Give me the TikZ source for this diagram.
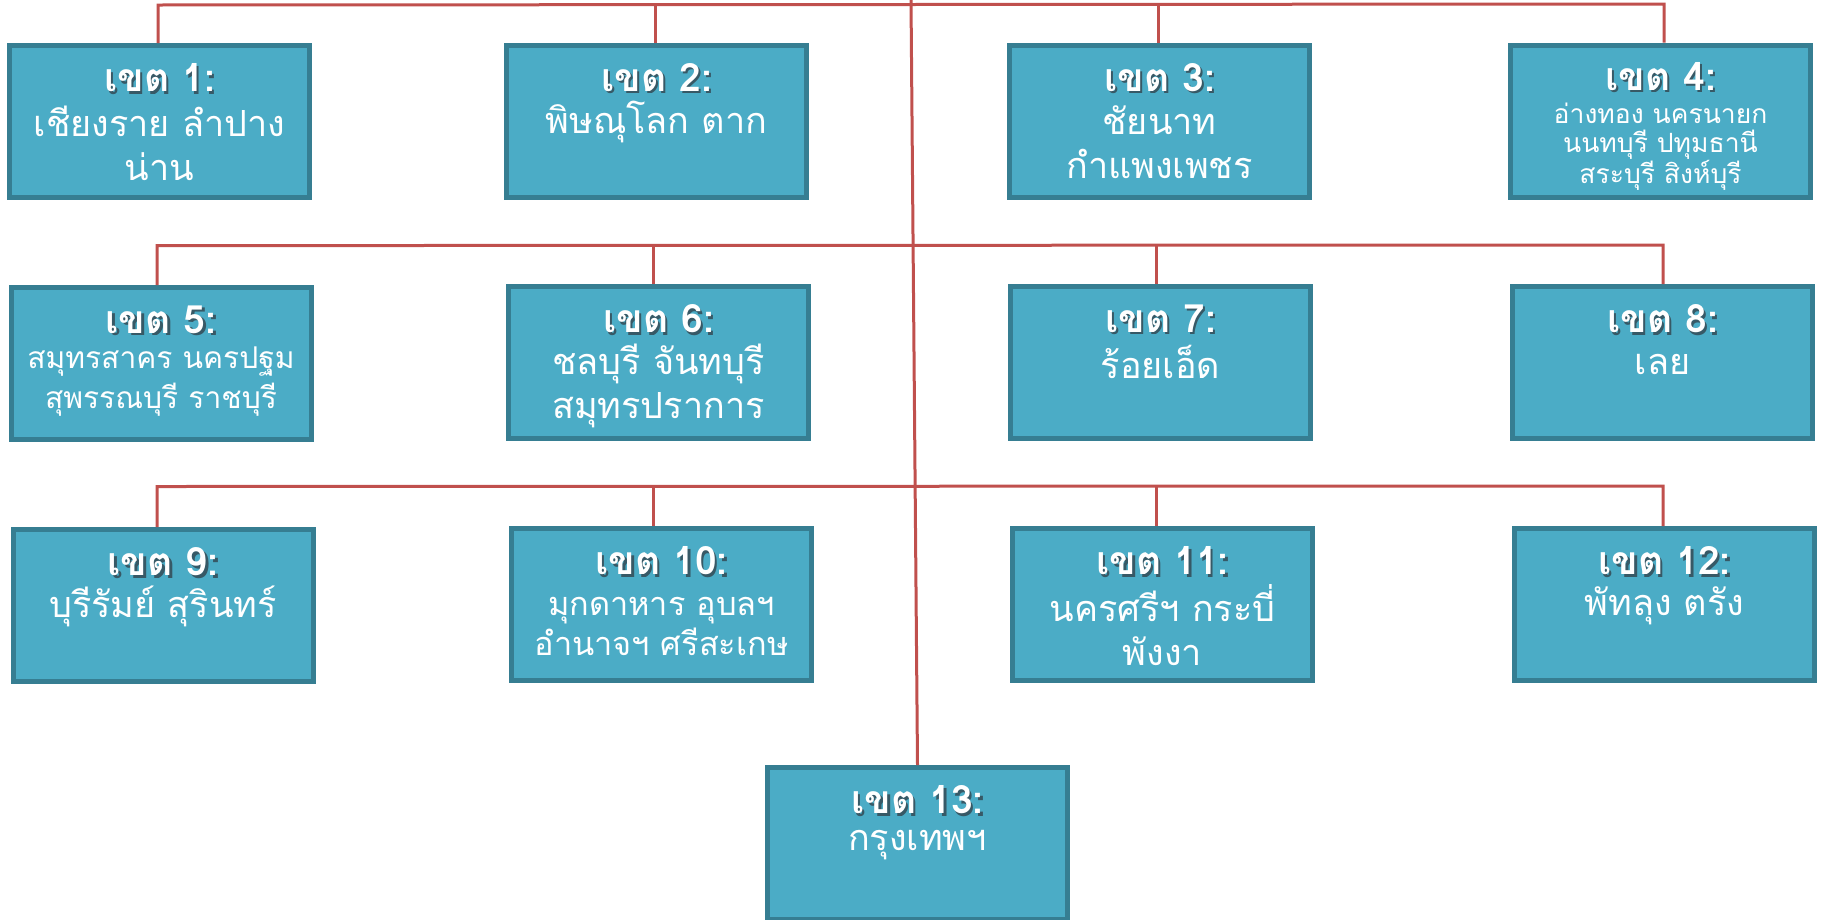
\documentclass[tikz,border=0pt]{standalone}
\usepackage{fontspec}
\newfontfamily\thai[Script=Thai]{Loma}
\definecolor{boxfill}{RGB}{75,172,198}
\definecolor{boxedge}{RGB}{54,126,146}
\definecolor{linkred}{RGB}{192,80,77}
\definecolor{shadowc}{RGB}{20,60,75}
\newcommand\shd[1]{\leavevmode\rlap{\raisebox{-2.5pt}{\hspace{2.5pt}\color{shadowc!85}#1}}#1}
\tikzset{
  regbox/.style={draw=boxedge,fill=boxfill,line width=5pt,minimum width=300pt,minimum height=152pt,inner sep=0pt},
  ttl/.style={text=white,font=\thai\bfseries\fontsize{39}{44}\selectfont,inner sep=0pt},
  body/.style={text=white,align=center,inner sep=0pt,font=\thai\fontsize{36}{44}\selectfont},
  bodys/.style={text=white,align=center,inner sep=0pt,font=\thai\fontsize{30}{39.5}\selectfont},
  bodym/.style={text=white,align=center,inner sep=0pt,font=\thai\fontsize{32.5}{40}\selectfont},
  bodyxs/.style={text=white,align=center,inner sep=0pt,font=\thai\fontsize{26.5}{29}\selectfont},
  conn/.style={draw=linkred,line width=3pt}
}
\begin{document}
\begin{tikzpicture}[x=1pt,y=-1pt]
\useasboundingbox (0,0) rectangle (1825,919);
% boxes
\node[regbox] (b1) at (159.5,121.6) {};
\node[regbox] (b2) at (656.5,121) {};
\node[regbox] (b3) at (1159.5,121) {};
\node[regbox] (b4) at (1660.5,121) {};
\node[regbox] (b5) at (161,363.5) {};
\node[regbox] (b6) at (658.5,362.5) {};
\node[regbox] (b7) at (1160.5,362.5) {};
\node[regbox] (b8) at (1662.5,362.5) {};
\node[regbox] (b9) at (163,605.5) {};
\node[regbox] (b10) at (661.5,604.5) {};
\node[regbox] (b11) at (1162.5,604.5) {};
\node[regbox] (b12) at (1664.5,604.5) {};
\node[regbox] (b13) at (917.5,843.5) {};
% bus coordinates
\coordinate (top) at (911,0);
\coordinate (r1a) at (158,5);
\coordinate (r1b) at (655,5);
\coordinate (r1c) at (1158,4.5);
\coordinate (r1d) at (1664,4);
\coordinate (r2a) at (157,245.6);
\coordinate (r2b) at (653,245.6);
\coordinate (r2c) at (1156,245.3);
\coordinate (r2d) at (1663,245);
\coordinate (r3a) at (157,486.5);
\coordinate (r3b) at (653,486.5);
\coordinate (r3c) at (1156,486.2);
\coordinate (r3d) at (1663,486);
% connectors
\draw[conn] (r1a |- b1.north) -- (r1a) -- (r1d) -- (r1d |- b4.north);
\draw[conn] (r1b) -- (r1b |- b2.north);
\draw[conn] (r1c) -- (r1c |- b3.north);
\draw[conn] (r2a |- b5.north) -- (r2a) -- (r2d) -- (r2d |- b8.north);
\draw[conn] (r2b) -- (r2b |- b6.north);
\draw[conn] (r2c) -- (r2c |- b7.north);
\draw[conn] (r3a |- b9.north) -- (r3a) -- (r3d) -- (r3d |- b12.north);
\draw[conn] (r3b) -- (r3b |- b10.north);
\draw[conn] (r3c) -- (r3c |- b11.north);
\draw[conn] (top) -- (b13.north);
% titles
\node[ttl] (t1) at ([yshift=-36pt]b1.north) {\shd{เขต 1:}};
\node[ttl] (t2) at ([yshift=-36pt]b2.north) {\shd{เขต 2:}};
\node[ttl] (t3) at ([yshift=-36pt]b3.north) {\shd{เขต 3:}};
\node[ttl] (t4) at ([yshift=-35pt]b4.north) {\shd{เขต 4:}};
\node[ttl] (t5) at ([yshift=-36pt]b5.north) {\shd{เขต 5:}};
\node[ttl] (t6) at ([yshift=-36pt]b6.north) {\shd{เขต 6:}};
\node[ttl] (t7) at ([yshift=-36pt]b7.north) {\shd{เขต 7:}};
\node[ttl] (t8) at ([yshift=-36pt]b8.north) {\shd{เขต 8:}};
\node[ttl] (t9) at ([yshift=-36pt]b9.north) {\shd{เขต 9:}};
\node[ttl] (t10) at ([yshift=-36pt]b10.north) {\shd{เขต 10:}};
\node[ttl] (t11) at ([yshift=-36pt]b11.north) {\shd{เขต 11:}};
\node[ttl] (t12) at ([yshift=-36pt]b12.north) {\shd{เขต 12:}};
\node[ttl] (t13) at ([yshift=-36pt]b13.north) {\shd{เขต 13:}};
% bodies
\node[body] (d1) at ([yshift=-100pt]b1.north) {เชียงราย ลำปาง\\น่าน};
\node[body] (d2) at ([yshift=-79pt]b2.north) {พิษณุโลก ตาก};
\node[body] (d3) at ([yshift=-100pt]b3.north) {ชัยนาท\\กำแพงเพชร};
\node[bodyxs] (d4) at ([yshift=-104pt]b4.north) {อ่างทอง นครนายก\\นนทบุรี ปทุมธานี\\สระบุรี สิงห์บุรี};
\node[bodys] (d5) at ([yshift=-96.5pt]b5.north) {สมุทรสาคร นครปฐม\\สุพรรณบุรี ราชบุรี};
\node[body] (d6) at ([yshift=-102pt]b6.north) {ชลบุรี จันทบุรี\\สมุทรปราการ};
\node[body] (d7) at ([yshift=-78pt]b7.north) {ร้อยเอ็ด};
\node[body] (d8) at ([yshift=-80pt]b8.north) {เลย};
\node[body] (d9) at ([yshift=-79pt]b9.north) {บุรีรัมย์ สุรินทร์};
\node[bodym] (d10) at ([yshift=-100pt]b10.north) {มุกดาหาร อุบลฯ\\อำนาจฯ ศรีสะเกษ};
\node[body] (d11) at ([yshift=-99pt]b11.north) {นครศรีฯ กระบี่\\พังงา};
\node[body] (d12) at ([yshift=-80pt]b12.north) {พัทลุง ตรัง};
\node[body] (d13) at ([yshift=-80pt]b13.north) {กรุงเทพฯ};
\end{tikzpicture}
\end{document}
